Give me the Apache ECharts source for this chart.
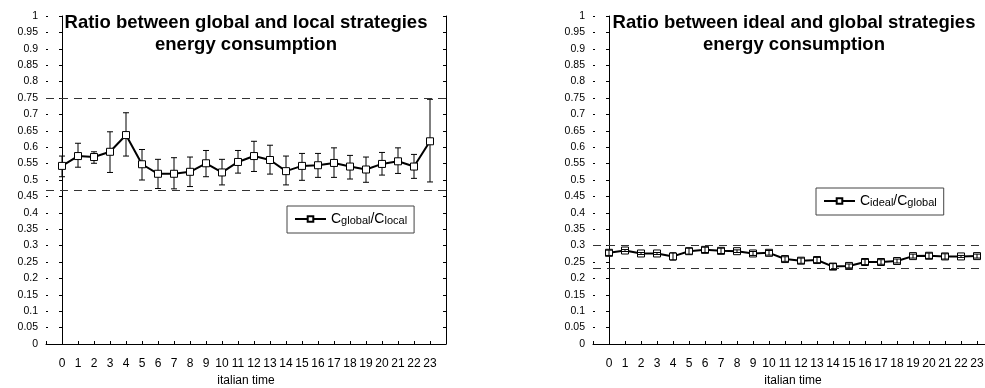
<!DOCTYPE html>
<html>
<head>
<meta charset="utf-8">
<script src="https://cdn.jsdelivr.net/npm/echarts@6/dist/echarts.min.js"></script>
<style>
html,body{margin:0;padding:0;background:#fff;}
#chart{width:985px;height:388px;}
</style>
</head>
<body>
<div id="chart"></div>
<script>
// ---- data ----
const hours = [0,1,2,3,4,5,6,7,8,9,10,11,12,13,14,15,16,17,18,19,20,21,22,23];

const globalLocal     = [0.543,0.573,0.570,0.586,0.637,0.548,0.519,0.519,0.525,0.551,0.523,0.555,0.573,0.561,0.527,0.543,0.545,0.552,0.541,0.532,0.549,0.557,0.541,0.618];
const globalLocalHigh = [0.573,0.612,0.586,0.647,0.705,0.593,0.563,0.568,0.570,0.590,0.563,0.590,0.618,0.606,0.573,0.581,0.581,0.598,0.575,0.570,0.584,0.598,0.578,0.746];
const globalLocalLow  = [0.510,0.539,0.551,0.523,0.573,0.500,0.474,0.473,0.480,0.510,0.485,0.521,0.526,0.518,0.485,0.499,0.508,0.508,0.503,0.493,0.515,0.520,0.505,0.494];
const globalLocalBounds = [0.746, 0.473];

const idealGlobal     = [0.278,0.285,0.276,0.276,0.267,0.283,0.287,0.284,0.283,0.276,0.278,0.259,0.254,0.256,0.236,0.238,0.250,0.250,0.253,0.268,0.269,0.267,0.267,0.268];
const idealGlobalHigh = [0.286,0.288,0.279,0.279,0.278,0.292,0.295,0.292,0.287,0.282,0.285,0.266,0.262,0.264,0.245,0.244,0.258,0.257,0.259,0.274,0.277,0.275,0.270,0.274];
const idealGlobalLow  = [0.270,0.282,0.273,0.273,0.256,0.274,0.279,0.276,0.279,0.270,0.271,0.252,0.246,0.248,0.227,0.232,0.242,0.243,0.247,0.262,0.261,0.259,0.264,0.262];
const idealGlobalBounds = [0.299, 0.226];

const titles = ['Ratio between global and local strategies\nenergy consumption',
                'Ratio between ideal and global strategies\nenergy consumption'];
const seriesNames = ['Cglobal/Clocal', 'Cideal/Cglobal'];
const legendRich = {
  'Cglobal/Clocal': '{c|C}{s|global}{c|/C}{s|local}',
  'Cideal/Cglobal': '{c|C}{s|ideal}{c|/C}{s|global}'
};
const xName = 'italian time';

// ---- chart ----
const FONT = 'Liberation Sans, Arial, sans-serif';
const chart = echarts.init(document.getElementById('chart'), null, {renderer: 'canvas'});

const grids = [
  {left: 46, right: 539, top: 16, bottom: 44, outerBoundsMode: 'none', containLabel: false},
  {left: 593, right: -8, top: 16, bottom: 44, outerBoundsMode: 'none', containLabel: false}
];
const titleX = [246, 794];
const legendPos = [{left: 287, top: 206}, {left: 816, top: 188}];

function errRender(params, api) {
  const x = api.value(0), hi = api.value(1), lo = api.value(2);
  const t = api.coord([x, hi]), b = api.coord([x, lo]);
  const w = 3;
  const st = {stroke: '#000', lineWidth: 1};
  return {type: 'group', children: [
    {type: 'line', shape: {x1: t[0], y1: t[1], x2: b[0], y2: b[1]}, style: st},
    {type: 'line', shape: {x1: t[0]-w, y1: t[1], x2: t[0]+w, y2: t[1]}, style: st},
    {type: 'line', shape: {x1: b[0]-w, y1: b[1], x2: b[0]+w, y2: b[1]}, style: st}
  ]};
}

const datasets = [
  {v: globalLocal, hi: globalLocalHigh, lo: globalLocalLow, bounds: globalLocalBounds, errZ: 2},
  {v: idealGlobal, hi: idealGlobalHigh, lo: idealGlobalLow, bounds: idealGlobalBounds, errZ: 5}
];

const option = {
  animation: false,
  backgroundColor: '#fff',
  title: titles.map((t, i) => ({
    text: t, left: titleX[i], top: 12, textAlign: 'center', padding: 0,
    textStyle: {fontFamily: FONT, fontSize: 18.5, fontWeight: 'bold', color: '#000', lineHeight: 22}
  })),
  grid: grids,
  legend: seriesNames.map((n, i) => ({
    data: [n], left: legendPos[i].left, top: legendPos[i].top,
    orient: 'vertical', padding: [6, 7, 7, 7], itemWidth: 31, itemHeight: 7, itemGap: 0,
    borderColor: '#444', borderWidth: 1, backgroundColor: '#fff',
    formatter: name => legendRich[name],
    textStyle: {fontFamily: FONT, color: '#000', padding: [0,0,0,0],
      rich: {c: {fontSize: 14, fontFamily: FONT, color: '#000'}, s: {fontSize: 11, fontFamily: FONT, color: '#000', verticalAlign: 'bottom', padding: [3,0,0,0]}}}
  })),
  xAxis: grids.map((g, i) => ({
    gridIndex: i, type: 'value', min: -1, max: 24, interval: 1,
    name: xName, nameLocation: 'middle', nameGap: 30,
    nameTextStyle: {fontFamily: FONT, fontSize: 12, color: '#000'},
    axisLine: {show: true, onZero: false, lineStyle: {color: '#000', width: 1}},
    axisTick: {show: true, inside: true, length: 3, lineStyle: {color: '#000'}},
    axisLabel: {fontFamily: FONT, fontSize: 12, color: '#000', margin: 14,
      formatter: v => (v >= 0 && v <= 23 && Number.isInteger(v)) ? String(v) : ''},
    splitLine: {show: false}
  })),
  yAxis: [].concat(...grids.map((g, i) => ([
    {gridIndex: i, type: 'value', min: 0, max: 1, interval: 0.05, position: 'left',
     axisLine: {show: true, lineStyle: {color: '#000', width: 1}},
     axisTick: {show: true, inside: false, length: 3, lineStyle: {color: '#000'}},
     axisLabel: {fontFamily: FONT, fontSize: 10.5, color: '#000', margin: 8,
       formatter: v => String(+v.toFixed(2))},
     splitLine: {show: false}},
    {gridIndex: i, type: 'value', min: 0, max: 1, interval: 0.05, position: 'right',
     axisLine: {show: true, lineStyle: {color: '#000', width: 1}},
     axisTick: {show: true, inside: true, length: 3, lineStyle: {color: '#000'}},
     axisLabel: {show: false}, splitLine: {show: false}},
    {gridIndex: i, type: 'value', min: 0, max: 1, interval: 0.05, position: 'left',
     axisLine: {show: false},
     axisTick: {show: true, inside: true, length: 2, lineStyle: {color: '#000'}},
     axisLabel: {show: false}, splitLine: {show: false}}
  ]))),
  series: [].concat(...datasets.map((d, i) => ([
    {
      name: seriesNames[i], type: 'line', xAxisIndex: i, yAxisIndex: i*3,
      data: hours.map((h, k) => [h, d.v[k]]),
      symbol: 'rect', symbolSize: 7, showSymbol: true,
      lineStyle: {color: '#000', width: 2},
      itemStyle: {color: '#fff', borderColor: '#000', borderWidth: 1},
      z: 3,
      markLine: {
        silent: true, symbol: ['none', 'none'], label: {show: false},
        lineStyle: {color: '#333', width: 1, type: [8, 6]},
        data: d.bounds.map(b => ({yAxis: b}))
      }
    },
    {
      type: 'custom', xAxisIndex: i, yAxisIndex: i*3, renderItem: errRender,
      data: hours.map((h, k) => [h, d.hi[k], d.lo[k]]),
      encode: {x: 0, y: [1, 2]}, z: d.errZ, silent: true
    }
  ])))
};
chart.setOption(option);
</script>
</body>
</html>
